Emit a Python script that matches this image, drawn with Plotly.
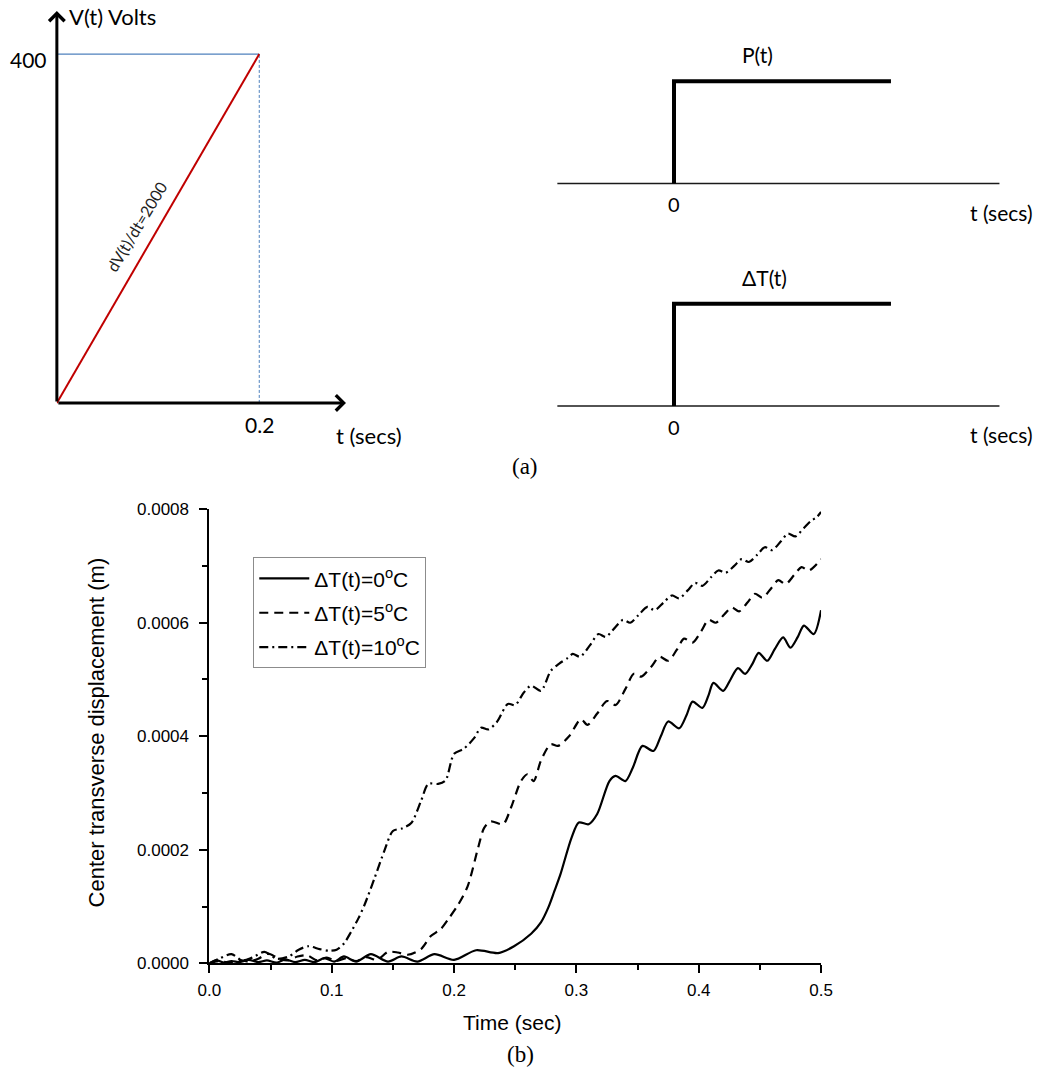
import plotly.graph_objects as go

W, H = 1046, 1076
# layout positions below are written in page pixels; the page view places the
# figure with a small offset and scale, which these two constants undo
VIEW_OFFSET = 10.0
VIEW_SCALE = 0.98

# ---------------- (a) loading schematics ----------------
# applied voltage ramp
ramp_t = [0.0, 0.2]
ramp_v = [0.0, 400.0]
# step loads P(t) and dT(t)
step_t = [0.0, 0.0, 1.86]
step_level = [0.0, 1.0, 1.0]
base_t = [-1.0, 2.79]
base_level = [0.0, 0.0]

# ---------------- (b) center transverse displacement ----------------
t_0 = [0.000, 0.006, 0.012, 0.018, 0.025, 0.032, 0.040, 0.047, 0.055, 0.062,
       0.070, 0.078, 0.086, 0.094, 0.102, 0.110, 0.120, 0.132, 0.146, 0.157,
       0.170, 0.184, 0.200, 0.218, 0.236, 0.249, 0.263, 0.271, 0.277, 0.282,
       0.287, 0.296, 0.302, 0.310, 0.317, 0.327, 0.332, 0.340, 0.346, 0.354,
       0.363, 0.369, 0.375, 0.384, 0.390, 0.395, 0.403, 0.408, 0.412, 0.420,
       0.426, 0.432, 0.438, 0.444, 0.449, 0.456, 0.462, 0.469, 0.475, 0.481,
       0.486, 0.494, 0.500]
w_0 = [0e-6, 5e-6, 1e-6, 4e-6, 2e-6, 6e-6, 2e-6, 5e-6, 1e-6, 7e-6,
       2e-6, 6e-6, 2e-6, 9e-6, 3e-6, 12e-6, 3e-6, 16e-6, 3e-6, 12e-6,
       3e-6, 16e-6, 6e-6, 23e-6, 18e-6, 30e-6, 52e-6, 72e-6, 98e-6, 127e-6,
       157e-6, 221e-6, 248e-6, 245e-6, 263e-6, 321e-6, 330e-6, 321e-6, 344e-6, 383e-6,
       374e-6, 400e-6, 426e-6, 414e-6, 437e-6, 461e-6, 450e-6, 472e-6, 494e-6, 480e-6,
       500e-6, 520e-6, 510e-6, 528e-6, 547e-6, 533e-6, 553e-6, 574e-6, 556e-6, 575e-6,
       595e-6, 580e-6, 622e-6]

t_5 = [0.000, 0.008, 0.016, 0.024, 0.032, 0.040, 0.048, 0.056, 0.064, 0.072,
       0.080, 0.088, 0.096, 0.104, 0.112, 0.120, 0.128, 0.137, 0.146, 0.154,
       0.162, 0.173, 0.181, 0.189, 0.196, 0.203, 0.211, 0.2196, 0.2245, 0.230,
       0.240, 0.2465, 0.2547, 0.260, 0.265, 0.271, 0.279, 0.285, 0.294, 0.3037,
       0.309, 0.317, 0.325, 0.332, 0.340, 0.347, 0.353, 0.361, 0.368, 0.375,
       0.382, 0.388, 0.395, 0.402, 0.408, 0.414, 0.421, 0.427, 0.433, 0.440,
       0.446, 0.452, 0.459, 0.465, 0.471, 0.478, 0.484, 0.490, 0.500]
w_5 = [0e-6, 4e-6, 1e-6, 6e-6, 3e-6, 8e-6, 17e-6, 9e-6, 5e-6, 12e-6,
       14e-6, 5e-6, 10e-6, 4e-6, 9e-6, 4e-6, 11e-6, 6e-6, 20e-6, 19e-6,
       15e-6, 25e-6, 48e-6, 60e-6, 80e-6, 102e-6, 135e-6, 203e-6, 238e-6, 250e-6,
       245e-6, 274e-6, 321e-6, 333e-6, 321e-6, 357e-6, 386e-6, 383e-6, 400e-6, 430e-6,
       420e-6, 440e-6, 462e-6, 455e-6, 483e-6, 510e-6, 505e-6, 522e-6, 540e-6, 533e-6,
       552e-6, 572e-6, 565e-6, 585e-6, 605e-6, 600e-6, 615e-6, 627e-6, 620e-6, 636e-6,
       651e-6, 644e-6, 660e-6, 675e-6, 668e-6, 684e-6, 698e-6, 692e-6, 712e-6]

t_10 = [0.000, 0.008, 0.018, 0.027, 0.035, 0.045, 0.055, 0.065, 0.073, 0.081,
        0.090, 0.098, 0.104, 0.110, 0.116, 0.122, 0.127, 0.135, 0.143, 0.150,
        0.158, 0.165, 0.173, 0.179, 0.187, 0.193, 0.200, 0.208, 0.2165, 0.222,
        0.228, 0.235, 0.244, 0.250, 0.257, 0.263, 0.271, 0.279, 0.286, 0.293,
        0.297, 0.303, 0.311, 0.318, 0.324, 0.331, 0.338, 0.344, 0.351, 0.358,
        0.364, 0.371, 0.378, 0.384, 0.391, 0.397, 0.403, 0.410, 0.416, 0.422,
        0.429, 0.435, 0.441, 0.448, 0.454, 0.460, 0.467, 0.473, 0.479, 0.486,
        0.492, 0.496, 0.500]
w_10 = [0e-6, 8e-6, 16e-6, 5e-6, 10e-6, 20e-6, 8e-6, 12e-6, 24e-6, 30e-6,
        25e-6, 22e-6, 24e-6, 35e-6, 56e-6, 80e-6, 104e-6, 150e-6, 198e-6, 233e-6,
        238e-6, 247e-6, 286e-6, 316e-6, 316e-6, 322e-6, 369e-6, 378e-6, 397e-6, 415e-6,
        412e-6, 425e-6, 457e-6, 455e-6, 477e-6, 489e-6, 480e-6, 515e-6, 528e-6, 538e-6,
        545e-6, 540e-6, 560e-6, 580e-6, 575e-6, 590e-6, 605e-6, 600e-6, 614e-6, 628e-6,
        622e-6, 635e-6, 648e-6, 643e-6, 657e-6, 670e-6, 665e-6, 680e-6, 692e-6, 688e-6,
        700e-6, 712e-6, 707e-6, 720e-6, 733e-6, 728e-6, 743e-6, 757e-6, 752e-6, 767e-6,
        780e-6, 785e-6, 795e-6]

series_names = ["ΔT(t)=0<sup>o</sup>C", "ΔT(t)=5<sup>o</sup>C", "ΔT(t)=10<sup>o</sup>C"]
series_dash = ["solid", "9px,6px", "9px,4px,2px,4px"]

SANS = "Liberation Sans, Arial, sans-serif"
DIAG = "Lato, sans-serif"
SERIF = "Liberation Serif, Times New Roman, serif"


def px_x(p):
    """page pixel column -> paper x"""
    return ((p - VIEW_OFFSET) / VIEW_SCALE) / W


def px_y(p):
    """page pixel row -> paper y"""
    return 1 - ((p - VIEW_OFFSET) / VIEW_SCALE) / H


fig = go.Figure()

# ---- displacement curves ----
for t, w, name, dash, grp in zip([t_0, t_5, t_10], [w_0, w_5, w_10],
                                 series_names, series_dash, ["a", "b", "c"]):
    fig.add_trace(go.Scatter(
        x=t, y=w, mode="lines", name=name, legendgroup=grp,
        line=dict(color="black", width=2.2, dash=dash, shape="spline", smoothing=0.8),
        xaxis="x", yaxis="y"))

# ---- voltage ramp schematic ----
fig.add_trace(go.Scatter(x=[0, ramp_t[1]], y=[ramp_v[1], ramp_v[1]], mode="lines",
                         line=dict(color="#4F81BD", width=1.3), showlegend=False,
                         xaxis="x2", yaxis="y2"))
fig.add_trace(go.Scatter(x=[ramp_t[1], ramp_t[1]], y=[0, ramp_v[1]], mode="lines",
                         line=dict(color="#4F81BD", width=1, dash="3px,2px"), showlegend=False,
                         xaxis="x2", yaxis="y2"))
fig.add_trace(go.Scatter(x=ramp_t, y=ramp_v, mode="lines",
                         line=dict(color="#C00000", width=2), showlegend=False,
                         xaxis="x2", yaxis="y2"))

# ---- step load schematics ----
for xa, ya in [("x3", "y3"), ("x4", "y4")]:
    fig.add_trace(go.Scatter(x=base_t, y=base_level, mode="lines",
                             line=dict(color="#1a1a1a", width=1.5), showlegend=False,
                             xaxis=xa, yaxis=ya))
    fig.add_trace(go.Scatter(x=step_t, y=step_level, mode="lines",
                             line=dict(color="black", width=4), showlegend=False,
                             xaxis=xa, yaxis=ya))

hidden = dict(visible=False, showgrid=False, zeroline=False, fixedrange=True)

# ramp panel: 0.87 px per volt, origin at page row 403; axis tip at row 12
PX_PER_V = 0.87
V_TOP = (403 - 12) / PX_PER_V
V_BOT = -60.0
T_END = 0.2857
# step panels: 117 px per time unit, step at page column 674
STEP_LEFT, STEP_RIGHT = -1.1, 3.07

annotations = [
    # ramp axes with arrow heads
    dict(x=0, y=V_TOP, ax=0, ay=0, xref="x2", yref="y2", axref="x2", ayref="y2",
         text="", showarrow=True, arrowhead=4, arrowsize=1, arrowwidth=3, arrowcolor="black"),
    dict(x=T_END, y=0, ax=0, ay=0, xref="x2", yref="y2", axref="x2", ayref="y2",
         text="", showarrow=True, arrowhead=4, arrowsize=1, arrowwidth=3, arrowcolor="black"),
    dict(x=0, y=400, xref="x2", yref="y2", text="400", showarrow=False,
         xanchor="right", yanchor="middle", xshift=-8, yshift=-5,
         font=dict(family=DIAG, size=21, color="black")),
    dict(x=0.0099, y=443, xref="x2", yref="y2", text="V(t) Volts", showarrow=False,
         xanchor="left", yanchor="middle", font=dict(family=DIAG, size=22, color="black")),
    dict(x=0.2, y=-25, xref="x2", yref="y2", text="0.2", showarrow=False,
         xanchor="center", yanchor="middle", font=dict(family=DIAG, size=21, color="black")),
    dict(x=0.2739, y=-37, xref="x2", yref="y2", text="t (secs)", showarrow=False,
         xanchor="left", yanchor="middle", font=dict(family=DIAG, size=22, color="black")),
    dict(x=0.0788, y=202, xref="x2", yref="y2", text="dV(t)/dt=2000", showarrow=False,
         textangle=-59, xanchor="center", yanchor="middle",
         font=dict(family=DIAG, size=16, color="#222")),
]

for xa, ya, lab in [("x3", "y3", "P(t)"), ("x4", "y4", "ΔT(t)")]:
    annotations += [
        dict(x=0.564, y=1.26, xref=xa, yref=ya, text=lab, showarrow=False,
             xanchor="left", yanchor="middle", font=dict(family=DIAG, size=21, color="black")),
        dict(x=0, y=-0.206, xref=xa, yref=ya, text="0", showarrow=False,
             xanchor="center", yanchor="middle", font=dict(family=DIAG, size=20, color="black")),
        dict(x=2.52, y=-0.28, xref=xa, yref=ya, text="t (secs)", showarrow=False,
             xanchor="left", yanchor="middle", font=dict(family=DIAG, size=21, color="black")),
    ]

annotations += [
    dict(x=px_x(525), y=px_y(466), xref="paper", yref="paper", text="(a)", showarrow=False,
         xanchor="center", yanchor="middle", font=dict(family=SERIF, size=23, color="black")),
    dict(x=px_x(520), y=px_y(1053), xref="paper", yref="paper", text="(b)", showarrow=False,
         xanchor="center", yanchor="middle", font=dict(family=SERIF, size=23, color="black")),
    dict(x=px_x(512), y=px_y(1021), xref="paper", yref="paper", text="Time (sec)", showarrow=False,
         xanchor="center", yanchor="middle", font=dict(family=SANS, size=21, color="black")),
    dict(x=px_x(95), y=px_y(732), xref="paper", yref="paper",
         text="Center transverse displacement (m)", showarrow=False, textangle=-90,
         xanchor="center", yanchor="middle", font=dict(family=SANS, size=22, color="black")),
]

axis_common = dict(showline=True, linecolor="black", linewidth=2, ticks="outside",
                   ticklen=8, tickwidth=2, tickcolor="black", showgrid=False, zeroline=False,
                   tickfont=dict(family=SANS, size=17, color="black"), fixedrange=True)

fig.update_layout(
    width=W, height=H,
    margin=dict(l=0, r=0, t=0, b=0),
    paper_bgcolor="white", plot_bgcolor="white",
    xaxis=dict(domain=[px_x(208), px_x(821.5)], range=[0, 0.5], dtick=0.1, tickformat=".1f",
               anchor="y", ticklabelstandoff=2,
               minor=dict(ticks="outside", ticklen=5, tickwidth=2, tickcolor="black", dtick=0.05),
               **axis_common),
    yaxis=dict(domain=[px_y(962), px_y(509)], range=[0, 0.0008], dtick=0.0002, tickformat=".4f",
               anchor="x", ticklabelstandoff=7,
               minor=dict(ticks="outside", ticklen=5, tickwidth=2, tickcolor="black", dtick=0.0001),
               **axis_common),
    xaxis2=dict(domain=[px_x(55), px_x(345)], range=[0, T_END], anchor="y2", **hidden),
    yaxis2=dict(domain=[px_y(403 - V_BOT * PX_PER_V), px_y(12)], range=[V_BOT, V_TOP],
                anchor="x2", **hidden),
    xaxis3=dict(domain=[px_x(674 + STEP_LEFT * 117), px_x(674 + STEP_RIGHT * 117)],
                range=[STEP_LEFT, STEP_RIGHT], anchor="y3", **hidden),
    yaxis3=dict(domain=[px_y(235), px_y(31)], range=[-0.5, 1.5], anchor="x3", **hidden),
    xaxis4=dict(domain=[px_x(674 + STEP_LEFT * 117), px_x(674 + STEP_RIGHT * 117)],
                range=[STEP_LEFT, STEP_RIGHT], anchor="y4", **hidden),
    yaxis4=dict(domain=[px_y(457), px_y(253)], range=[-0.5, 1.5], anchor="x4", **hidden),
    showlegend=True,
    legend=dict(x=px_x(252), y=px_y(557), xanchor="left", yanchor="top",
                bgcolor="white", bordercolor="#8c8c8c", borderwidth=1,
                font=dict(family=SANS, size=21, color="black"), tracegroupgap=4,
                itemwidth=50),
    annotations=annotations,
)

fig.write_html("out.html")
